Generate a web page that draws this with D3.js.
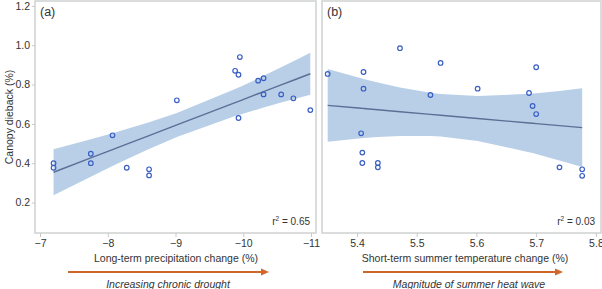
<!DOCTYPE html>
<html>
<head>
<meta charset="utf-8">
<script src="https://cdn.jsdelivr.net/npm/d3@7"></script>
<style>
  body { margin: 0; background: #fff; }
  text { font-family: "Liberation Sans", Arial, sans-serif; fill: #333; }
</style>
</head>
<body>
<div id="canvas"></div>
<script>
// panel (a): long-term precipitation change vs canopy dieback
var precipChange = [-7.2, -7.2, -7.75, -7.75, -8.07, -8.28, -8.61, -8.61, -9.02, -9.88,
                    -9.93, -9.93, -9.95, -10.22, -10.3, -10.3, -10.56, -10.74, -10.99];
var diebackA = [0.40, 0.377, 0.448, 0.40, 0.542, 0.377, 0.369, 0.338, 0.72, 0.87,
                0.85, 0.63, 0.94, 0.82, 0.832, 0.75, 0.75, 0.73, 0.67];
// panel (b): short-term summer temperature change vs canopy dieback
var tempChange = [5.351, 5.411, 5.411, 5.472, 5.540, 5.523, 5.602, 5.700, 5.688, 5.694,
                  5.700, 5.407, 5.409, 5.409, 5.435, 5.435, 5.739, 5.777, 5.777];
var diebackB = [0.854, 0.864, 0.779, 0.985, 0.910, 0.747, 0.779, 0.888, 0.757, 0.691,
                0.650, 0.552, 0.454, 0.401, 0.401, 0.379, 0.379, 0.369, 0.336];
var yTicks = [0.2, 0.4, 0.6, 0.8, 1.0, 1.2];
var xTicksA = [-7, -8, -9, -10, -11];
var xTicksB = [5.4, 5.5, 5.6, 5.7, 5.8];

var width = 602, height = 289;
var svg = d3.select("#canvas").append("svg")
  .attr("width", width)
  .attr("height", height);

var plotTop = 1, plotBottom = 233;
var y = d3.scaleLinear().domain([0.045, 1.225]).range([plotBottom, plotTop]);

// linear fit + 95% confidence band of the mean, evaluated at the data x values
function fit(xs, ys) {
  var n = xs.length;
  var mx = d3.mean(xs), my = d3.mean(ys);
  var sxx = 0, sxy = 0, syy = 0;
  for (var i = 0; i < n; i++) {
    sxx += (xs[i] - mx) * (xs[i] - mx);
    sxy += (xs[i] - mx) * (ys[i] - my);
    syy += (ys[i] - my) * (ys[i] - my);
  }
  var b = sxy / sxx, a = my - b * mx;
  var s = Math.sqrt((syy - b * sxy) / (n - 2));
  var t = 2.110; // t(0.975, 17)
  var ux = Array.from(new Set(xs)).sort(d3.ascending);
  return ux.map(function(x) {
    var f = a + b * x;
    var se = s * Math.sqrt(1 / n + (x - mx) * (x - mx) / sxx);
    return { x: x, fit: f, lo: f - t * se, hi: f + t * se };
  });
}

function panel(opt) {
  var x = d3.scaleLinear().domain(opt.domain).range([opt.left, opt.right]);
  var g = svg.append("g");

  var band = fit(opt.xs, opt.ys);
  g.append("path").datum(band)
    .attr("fill", "#b9cfe8")
    .attr("d", d3.area().x(function(d){ return x(d.x); })
      .y0(function(d){ return y(d.lo); }).y1(function(d){ return y(d.hi); }));
  g.append("path").datum(band)
    .attr("fill", "none")
    .attr("stroke", "#5b6f95")
    .attr("stroke-width", 1.4)
    .attr("d", d3.line().x(function(d){ return x(d.x); }).y(function(d){ return y(d.fit); }));

  g.selectAll("circle.pt").data(opt.xs).enter().append("circle")
    .attr("class", "pt")
    .attr("cx", function(d){ return x(d); })
    .attr("cy", function(d, i){ return y(opt.ys[i]); })
    .attr("r", 2.3)
    .attr("fill", "none")
    .attr("stroke", "#3a5fc4")
    .attr("stroke-width", 1.2);

  // frame
  g.append("rect")
    .attr("x", opt.left).attr("y", plotTop)
    .attr("width", opt.right - opt.left).attr("height", plotBottom - plotTop)
    .attr("fill", "none").attr("stroke", "#cfd2d2").attr("stroke-width", 1.5);

  var xa = g.append("g").attr("transform", "translate(0," + plotBottom + ")")
    .call(d3.axisBottom(x).tickValues(opt.ticks).tickSize(4).tickPadding(3)
      .tickFormat(opt.fmt));
  xa.select(".domain").remove();
  xa.selectAll("line").attr("stroke", "#c8c8c8");
  xa.selectAll("text").style("font-size", "10.5px").style("fill", "#333");

  if (opt.yAxis) {
    var ya = g.append("g").attr("transform", "translate(" + opt.left + ",0)")
      .call(d3.axisLeft(y).tickValues(yTicks).tickSize(3).tickPadding(2)
        .tickFormat(d3.format(".1f")));
    ya.select(".domain").remove();
    ya.selectAll("line").attr("stroke", "#c8c8c8");
    ya.selectAll("text").style("font-size", "10.5px").style("fill", "#333");
  }

  g.append("text").attr("x", opt.left + 5).attr("y", 16)
    .style("font-size", "12.5px").text(opt.label);

  var r2 = g.append("text").attr("x", opt.right - 6).attr("y", 225)
    .attr("text-anchor", "end").style("font-size", "10px");
  r2.append("tspan").text("r");
  r2.append("tspan").attr("dy", -4).style("font-size", "6.5px").text("2");
  r2.append("tspan").attr("dy", 4).text(" = " + opt.r2);

  g.append("text").attr("x", opt.titleX).attr("y", 262)
    .attr("text-anchor", "middle").style("font-size", "10.5px").text(opt.title);

  g.append("line")
    .attr("x1", opt.arrow[0]).attr("x2", opt.arrow[1] - 6)
    .attr("y1", 272).attr("y2", 272)
    .attr("stroke", "#d0652a").attr("stroke-width", 1.8);
  g.append("path")
    .attr("d", "M" + (opt.arrow[1] - 8) + ",268.5L" + opt.arrow[1] + ",272L" + (opt.arrow[1] - 8) + ",275.5Z")
    .attr("fill", "#d0652a");

  g.append("text").attr("x", opt.noteX).attr("y", 287.5)
    .attr("text-anchor", "middle").style("font-size", "10.5px")
    .style("font-style", "italic").text(opt.note);
}

panel({
  left: 35, right: 316, domain: [-6.926, -11.074],
  xs: precipChange, ys: diebackA, ticks: xTicksA, fmt: d3.format("d"),
  yAxis: true, label: "(a)", r2: "0.65",
  title: "Long-term precipitation change (%)", titleX: 176,
  arrow: [68, 269], note: "Increasing chronic drought", noteX: 168
});

panel({
  left: 322, right: 601, domain: [5.3415, 5.8085],
  xs: tempChange, ys: diebackB, ticks: xTicksB, fmt: d3.format(".1f"),
  yAxis: false, label: "(b)", r2: "0.03",
  title: "Short-term summer temperature change (%)", titleX: 465,
  arrow: [363, 563], note: "Magnitude of summer heat wave", noteX: 469
});

svg.append("text")
  .attr("transform", "translate(13,117) rotate(-90)")
  .attr("text-anchor", "middle")
  .style("font-size", "10.5px")
  .text("Canopy dieback (%)");
</script>
</body>
</html>
